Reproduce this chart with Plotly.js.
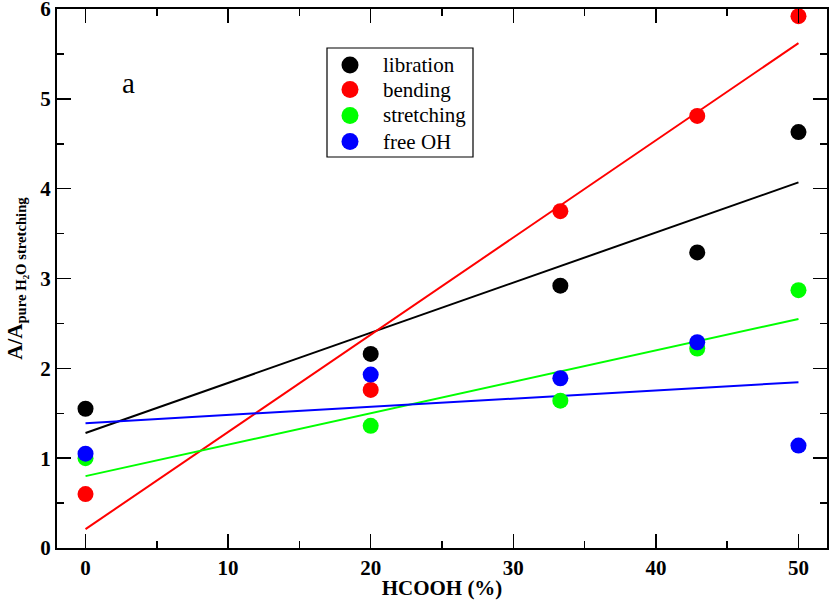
<!DOCTYPE html>
<html>
<head>
<meta charset="utf-8">
<script src="https://cdn.plot.ly/plotly-3.0.1.min.js"></script>
<style>html,body{margin:0;padding:0;background:#fff;}#plot{width:830px;height:600px;}</style>
</head>
<body>
<div id="plot"></div>
<script>
// HCOOH concentration (%)
const xVals = [0, 20, 33.3, 42.9, 50];
// series values (A / A pure H2O stretching)
const libration = [1.55, 2.16, 2.92, 3.29, 4.63];
const bending   = [0.60, 1.76, 3.75, 4.81, 5.92];
const stretching = [1.00, 1.36, 1.64, 2.22, 2.87];
const freeOH    = [1.05, 1.93, 1.89, 2.29, 1.14];
// linear-fit line endpoints
const fitX = [0, 50];
const fitLibration = [1.28, 4.07];
const fitBending = [0.21, 5.62];
const fitStretching = [0.80, 2.55];
const fitFreeOH = [1.39, 1.845];
// tick labels
const yTicks = [0, 1, 2, 3, 4, 5, 6];
const xTicks = [0, 10, 20, 30, 40, 50];

const names = ['libration', 'bending', 'stretching', 'free OH'];
const colors = ['#000000', '#ff0000', '#00ff00', '#0000ff'];
const series = [libration, bending, stretching, freeOH];
const fits = [fitLibration, fitBending, fitStretching, fitFreeOH];

const traces = [];
fits.forEach((f, i) => {
  traces.push({x: fitX, y: f, mode: 'lines', line: {color: colors[i], width: 2}, showlegend: false, hoverinfo: 'skip', cliponaxis: false});
});
series.forEach((s, i) => {
  traces.push({x: xVals, y: s, mode: 'markers', name: names[i], showlegend: false,
    marker: {color: colors[i], size: 16}, cliponaxis: false});
});

// plot-area geometry (pixels) used to place the hand-drawn legend box
const W = 830, H = 600, mL = 57, mR = 3, mT = 9, mB = 52;
const pw = W - mL - mR, ph = H - mT - mB;
const px = v => (v - mL) / pw;
const py = v => (H - mB - v) / ph;

const serif = '"Liberation Serif", "Times New Roman", Times, serif';

const shapes = [{
  type: 'rect', xref: 'paper', yref: 'paper', layer: 'above',
  x0: px(327), x1: px(473), y0: py(157), y1: py(48),
  line: {color: 'black', width: 1.2}, fillcolor: 'white'
}];
const annotations = [{
  xref: 'paper', yref: 'paper', x: px(128), y: py(83), xanchor: 'center', yanchor: 'middle',
  text: 'a', showarrow: false,
  font: {family: serif, size: 29, color: 'black'}
}];
const rowY = [65, 89.5, 115.5, 141.5];
names.forEach((n, i) => {
  const r = 8.5;
  shapes.push({
    type: 'circle', xref: 'paper', yref: 'paper', layer: 'above',
    x0: px(350 - r), x1: px(350 + r), y0: py(rowY[i] + r), y1: py(rowY[i] - r),
    line: {width: 0}, fillcolor: colors[i]
  });
  annotations.push({
    xref: 'paper', yref: 'paper', x: px(381), y: py(rowY[i]), xanchor: 'left', yanchor: 'middle',
    text: n, showarrow: false,
    font: {family: serif, size: 21, color: 'black'}
  });
});

const axisCommon = {
  showline: true, linecolor: 'black', linewidth: 2, mirror: 'ticks',
  ticks: 'inside', ticklen: 14, tickwidth: 1.5, tickcolor: 'black',
  showgrid: false, zeroline: false, ticklabeloverflow: 'allow',
  tickfont: {family: serif, size: 21, color: 'black', weight: 'bold'}
};

const layout = {
  width: W, height: H,
  margin: {l: mL, r: mR, t: mT, b: mB},
  paper_bgcolor: 'white', plot_bgcolor: 'white',
  xaxis: Object.assign({}, axisCommon, {
    range: [-2, 52], tickmode: 'array', tickvals: xTicks, ticktext: xTicks.map(String),
    minor: {dtick: 5, tick0: 0, ticks: 'inside', ticklen: 7, tickwidth: 1.5, tickcolor: 'black'},
    title: {text: 'HCOOH (%)', font: {family: serif, size: 21, color: 'black', weight: 'bold'}, standoff: 2}
  }),
  yaxis: Object.assign({}, axisCommon, {
    range: [0, 6], tickmode: 'array', tickvals: yTicks, ticktext: yTicks.map(String),
    minor: {dtick: 0.5, tick0: 0, ticks: 'inside', ticklen: 7, tickwidth: 1.5, tickcolor: 'black'},
    title: {text: 'A/A<sub>pure H₂O stretching</sub>', font: {family: serif, size: 21, color: 'black', weight: 'bold'}, standoff: 12}
  }),
  shapes: shapes,
  annotations: annotations,
  showlegend: false
};

Plotly.newPlot('plot', traces, layout, {displayModeBar: false, staticPlot: true});
</script>
</body>
</html>
